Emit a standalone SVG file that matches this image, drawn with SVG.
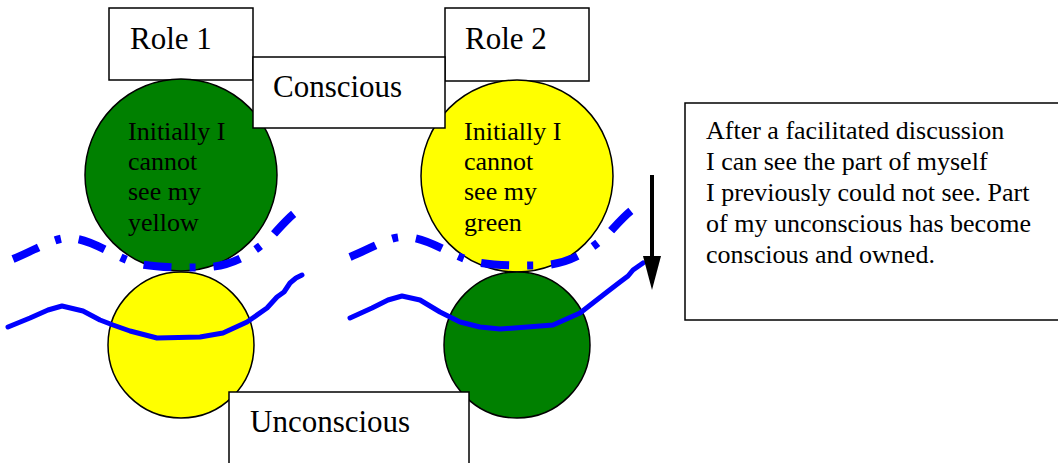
<svg xmlns="http://www.w3.org/2000/svg" width="1058" height="463" viewBox="0 0 1058 463">
<style>
.box{fill:#fff;stroke:#000;stroke-width:1.5}
.circ{stroke:#000;stroke-width:1.5}
.g{fill:#008000}
.y{fill:#ffff00}
text{font-family:'Liberation Serif','Times New Roman','DejaVu Serif',serif;fill:#000}
.lbl{font-size:31px}
.txt{font-size:26px}
.dd{fill:none;stroke:#0000ff;stroke-width:8;stroke-dasharray:28 18 6 18}
.wave{fill:none;stroke:#0000ff;stroke-width:5;stroke-linejoin:round;stroke-linecap:round}
</style>
<rect width="1058" height="463" fill="#fff"/>
<g id="role1"><rect class="box" x="109" y="8" width="144" height="72"/><text class="lbl" x="130" y="49" font-family="Liberation Serif, DejaVu Serif, serif">Role 1</text></g>
<g id="role2"><rect class="box" x="445" y="8" width="144" height="73"/><text class="lbl" x="465" y="49" font-family="Liberation Serif, DejaVu Serif, serif">Role 2</text></g>
<g id="green-top"><circle class="circ g" cx="181" cy="175" r="96"/><text class="txt" font-family="Liberation Serif, DejaVu Serif, serif"><tspan x="128" y="140">Initially I</tspan><tspan x="128" y="170">cannot</tspan><tspan x="128" y="200">see my</tspan><tspan x="128" y="231">yellow</tspan></text></g>
<g id="yellow-top"><circle class="circ y" cx="517" cy="176" r="96"/><text class="txt" font-family="Liberation Serif, DejaVu Serif, serif"><tspan x="464" y="140">Initially I</tspan><tspan x="464" y="170">cannot</tspan><tspan x="464" y="200">see my</tspan><tspan x="464" y="231">green</tspan></text></g>
<g id="conscious"><rect class="box" x="253" y="57" width="192" height="71"/><text class="lbl" x="273" y="97" font-family="Liberation Serif, DejaVu Serif, serif">Conscious</text></g>
<g id="yellow-bottom"><circle class="circ y" cx="181" cy="345" r="73"/></g>
<g id="green-bottom"><circle class="circ g" cx="517" cy="345" r="73"/></g>
<g id="unconscious"><rect class="box" x="229" y="392" width="240" height="80"/><text class="lbl" x="250" y="432" font-family="Liberation Serif, DejaVu Serif, serif">Unconscious</text></g>
<g id="note"><rect class="box" x="685" y="103" width="380" height="217"/><text class="txt" font-family="Liberation Serif, DejaVu Serif, serif"><tspan x="706" y="139">After a facilitated discussion</tspan><tspan x="706" y="170">I can see the part of myself</tspan><tspan x="706" y="201">I previously could not see. Part</tspan><tspan x="706" y="232">of my unconscious has become</tspan><tspan x="706" y="263">conscious and owned.</tspan></text></g>
<g id="connectors">
<path class="dd" d="M13,259 C35,250 50,240 65,238 C90,237 110,255 135,263 C155,268 190,268 210,267 C235,265 255,252 272,236 C285,222 295,210 308,205"/>
<path class="dd" d="M350,257 C372,248 387,238 401,237 C426,236 446,253 471,261 C491,266 526,266 546,265 C571,263 591,250 608,234 C621,220 631,208 644,203"/>
<path class="wave" d="M8,327 L30,318 L48,310 L62,306 L83,311 L100,320 L113,325 L130,331 L157,338 L200,337 L223,333 L247,322 L267,308 L277,297 L284,292 L290,283 L296,278 L302,275"/>
<path class="wave" d="M350,318 L372,308 L388,300 L402,296 L420,300 L440,312 L460,322 L480,327 L500,329 L553,325 L580,313 L607,292 L620,282 L628,276 L633,270 L643,263"/>
<line x1="652" y1="175" x2="652" y2="258" stroke="#000" stroke-width="4"/>
<polygon points="643,256 661,256 652,290" fill="#000"/>
</g>
</svg>
